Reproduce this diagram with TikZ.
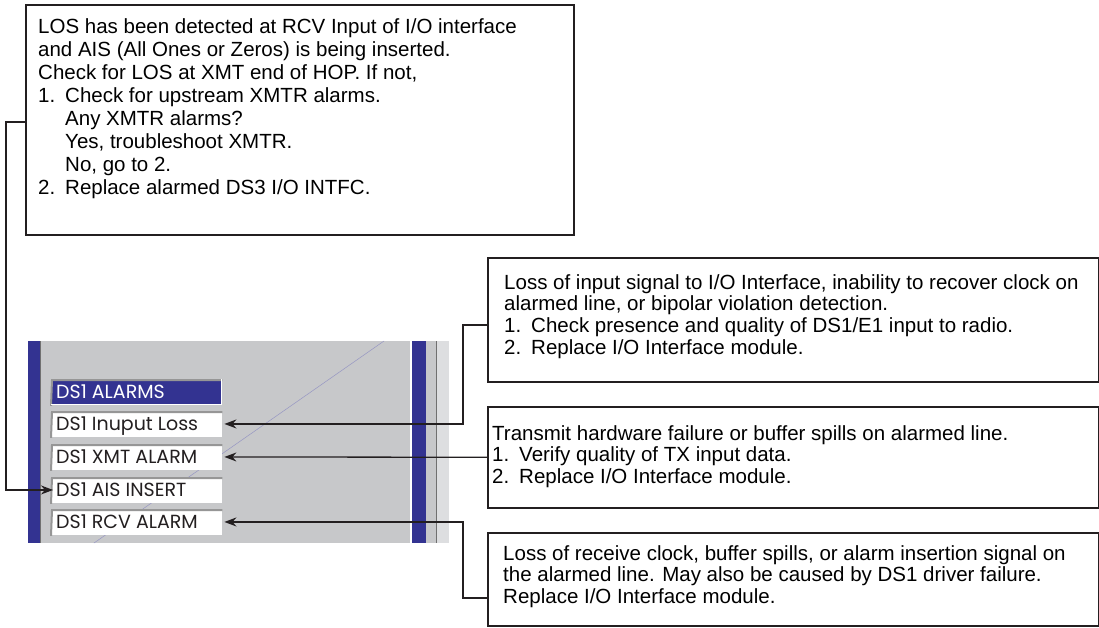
\documentclass[tikz,border=0pt]{standalone}
\usepackage{fontspec}
\setmainfont{Liberation Sans}
\newfontfamily\labelfont{Poppins}
\usetikzlibrary{arrows.meta}
\definecolor{panelgray}{RGB}{199,200,202}
\definecolor{panellight}{RGB}{221,222,224}
\definecolor{panelblue}{RGB}{51,51,145}
\definecolor{paneldark}{RGB}{112,112,112}
\definecolor{diagline}{RGB}{150,150,195}
\definecolor{ink}{RGB}{35,31,32}
\definecolor{bevel}{RGB}{150,150,150}
\newcommand{\num}[1]{\makebox[27pt][l]{#1}}
\newcommand{\ind}{\hspace*{27pt}}
\begin{document}
\begin{tikzpicture}[x=1pt,y=-1pt,
  infobox/.style={draw=ink, line width=1.5pt, fill=white, rectangle, inner sep=0pt, anchor=north west},
  infotext/.style={anchor=north west, inner sep=0pt, align=left, font=\fontsize{20.5}{21.7}\selectfont},
  lblbox/.style={rectangle, fill=white, inner sep=0pt, minimum width=171pt, minimum height=25.5pt, anchor=north west},
  lbltext/.style={anchor=base west, inner sep=0pt, font=\labelfont\fontsize{19}{21}\selectfont, text=ink},
  conn/.style={draw=ink, line width=1.3pt},
  tip/.style={-{Stealth[length=12pt,width=9pt]}}
]
\useasboundingbox (0,0) rectangle (1099,627);

% ---------- panel ----------
\fill[panelgray] (28,341) rectangle (437,543);
\fill[panellight] (437,341) rectangle (449,543);
\fill[panelblue] (28,341) rectangle (39.5,543);
\fill[paneldark] (39.5,341) rectangle (41,543);
\fill[white] (409.5,341) rectangle (411.5,543);
\fill[panelblue] (411.5,341) rectangle (426,543);
\fill[paneldark] (435.5,341) rectangle (437,543);
\draw[diagline, line width=0.5pt] (384,341) -- (94,543);

% ---------- alarm labels ----------
\node[lblbox, fill=panelblue] (l0) at (51,379) {};
\node[lblbox] (l1) at (51,411) {};
\node[lblbox] (l2) at (51,444) {};
\node[lblbox] (l3) at (51,477) {};
\node[lblbox] (l4) at (51,509) {};
\foreach \n in {l0,l1,l2,l3,l4}{
  \draw[bevel, line width=2pt] ([yshift=-1pt]\n.south west) -- ([xshift=1pt,yshift=-1pt]\n.north west) -- ([yshift=-1pt]\n.north east);
}
\draw[white, line width=1pt] ([yshift=0.5pt]l0.south west) -- ([xshift=-0.5pt,yshift=0.5pt]l0.south east) -- ([xshift=-0.5pt]l0.north east);
\node[lbltext, text=white] (t0) at (56,398) {DS1 ALARMS};
\node[lbltext] (t1) at (56,430) {DS1 Inuput Loss};
\node[lbltext] (t2) at (56,463) {DS1 XMT ALARM};
\node[lbltext] (t3) at (56,496) {DS1 AIS INSERT};
\node[lbltext] (t4) at (56,528) {DS1 RCV ALARM};

% ---------- info boxes ----------
\node[infobox, minimum width=548pt, minimum height=230pt] (b1) at (25,4) {};
\node[infobox, minimum width=611pt, minimum height=124pt] (b2) at (487,257) {};
\node[infobox, minimum width=611pt, minimum height=101pt] (b3) at (487,406) {};
\node[infobox, minimum width=611pt, minimum height=93pt] (b4) at (487,532) {};

\node[infotext, font=\fontsize{20.5}{23}\selectfont] (x1) at (38,16.9) {\strut LOS has been detected at RCV Input of I/O interface\\
and AIS (All Ones or Zeros) is being inserted.\\
Check for LOS at XMT end of HOP. If not,\\
\num{1.}Check for upstream XMTR alarms.\\
\ind Any XMTR alarms?\\
\ind Yes, troubleshoot XMTR.\\
\ind No, go to 2.\\
\num{2.}Replace alarmed DS3 I/O INTFC.};

\node[infotext] (x2) at (504,273.8) {\strut Loss of input signal to I/O Interface, inability to recover clock on\\
alarmed line, or bipolar violation detection.\\
\num{1.}Check presence and quality of DS1/E1 input to radio.\\
\num{2.}Replace I/O Interface module.};

\node[infotext] (x3) at (492,424.8) {\strut Transmit hardware failure or buffer spills on alarmed line.\\
\num{1.}Verify quality of TX input data.\\
\num{2.}Replace I/O Interface module.};

\node[infotext] (x4) at (503,544.8) {\strut Loss of receive clock, buffer spills, or alarm insertion signal on\\
the alarmed line. May also be caused by DS1 driver failure.\\
Replace I/O Interface module.};

% ---------- connectors ----------
\coordinate (j1) at (6,122);
\coordinate (j2) at (463,325);
\coordinate (j4) at (463,598);
\draw[conn, tip] (b1.west |- j1) -- (j1) |- ([xshift=2pt]l3.west);
\draw[conn, tip] (b2.west |- j2) -- (j2) |- ([xshift=2pt]l1.east);
\draw[conn, tip] (b3.west) -- ([xshift=2pt]l2.east);
\draw[conn, tip] (b4.west |- j4) -- (j4) |- ([xshift=2pt]l4.east);
\end{tikzpicture}
\end{document}
